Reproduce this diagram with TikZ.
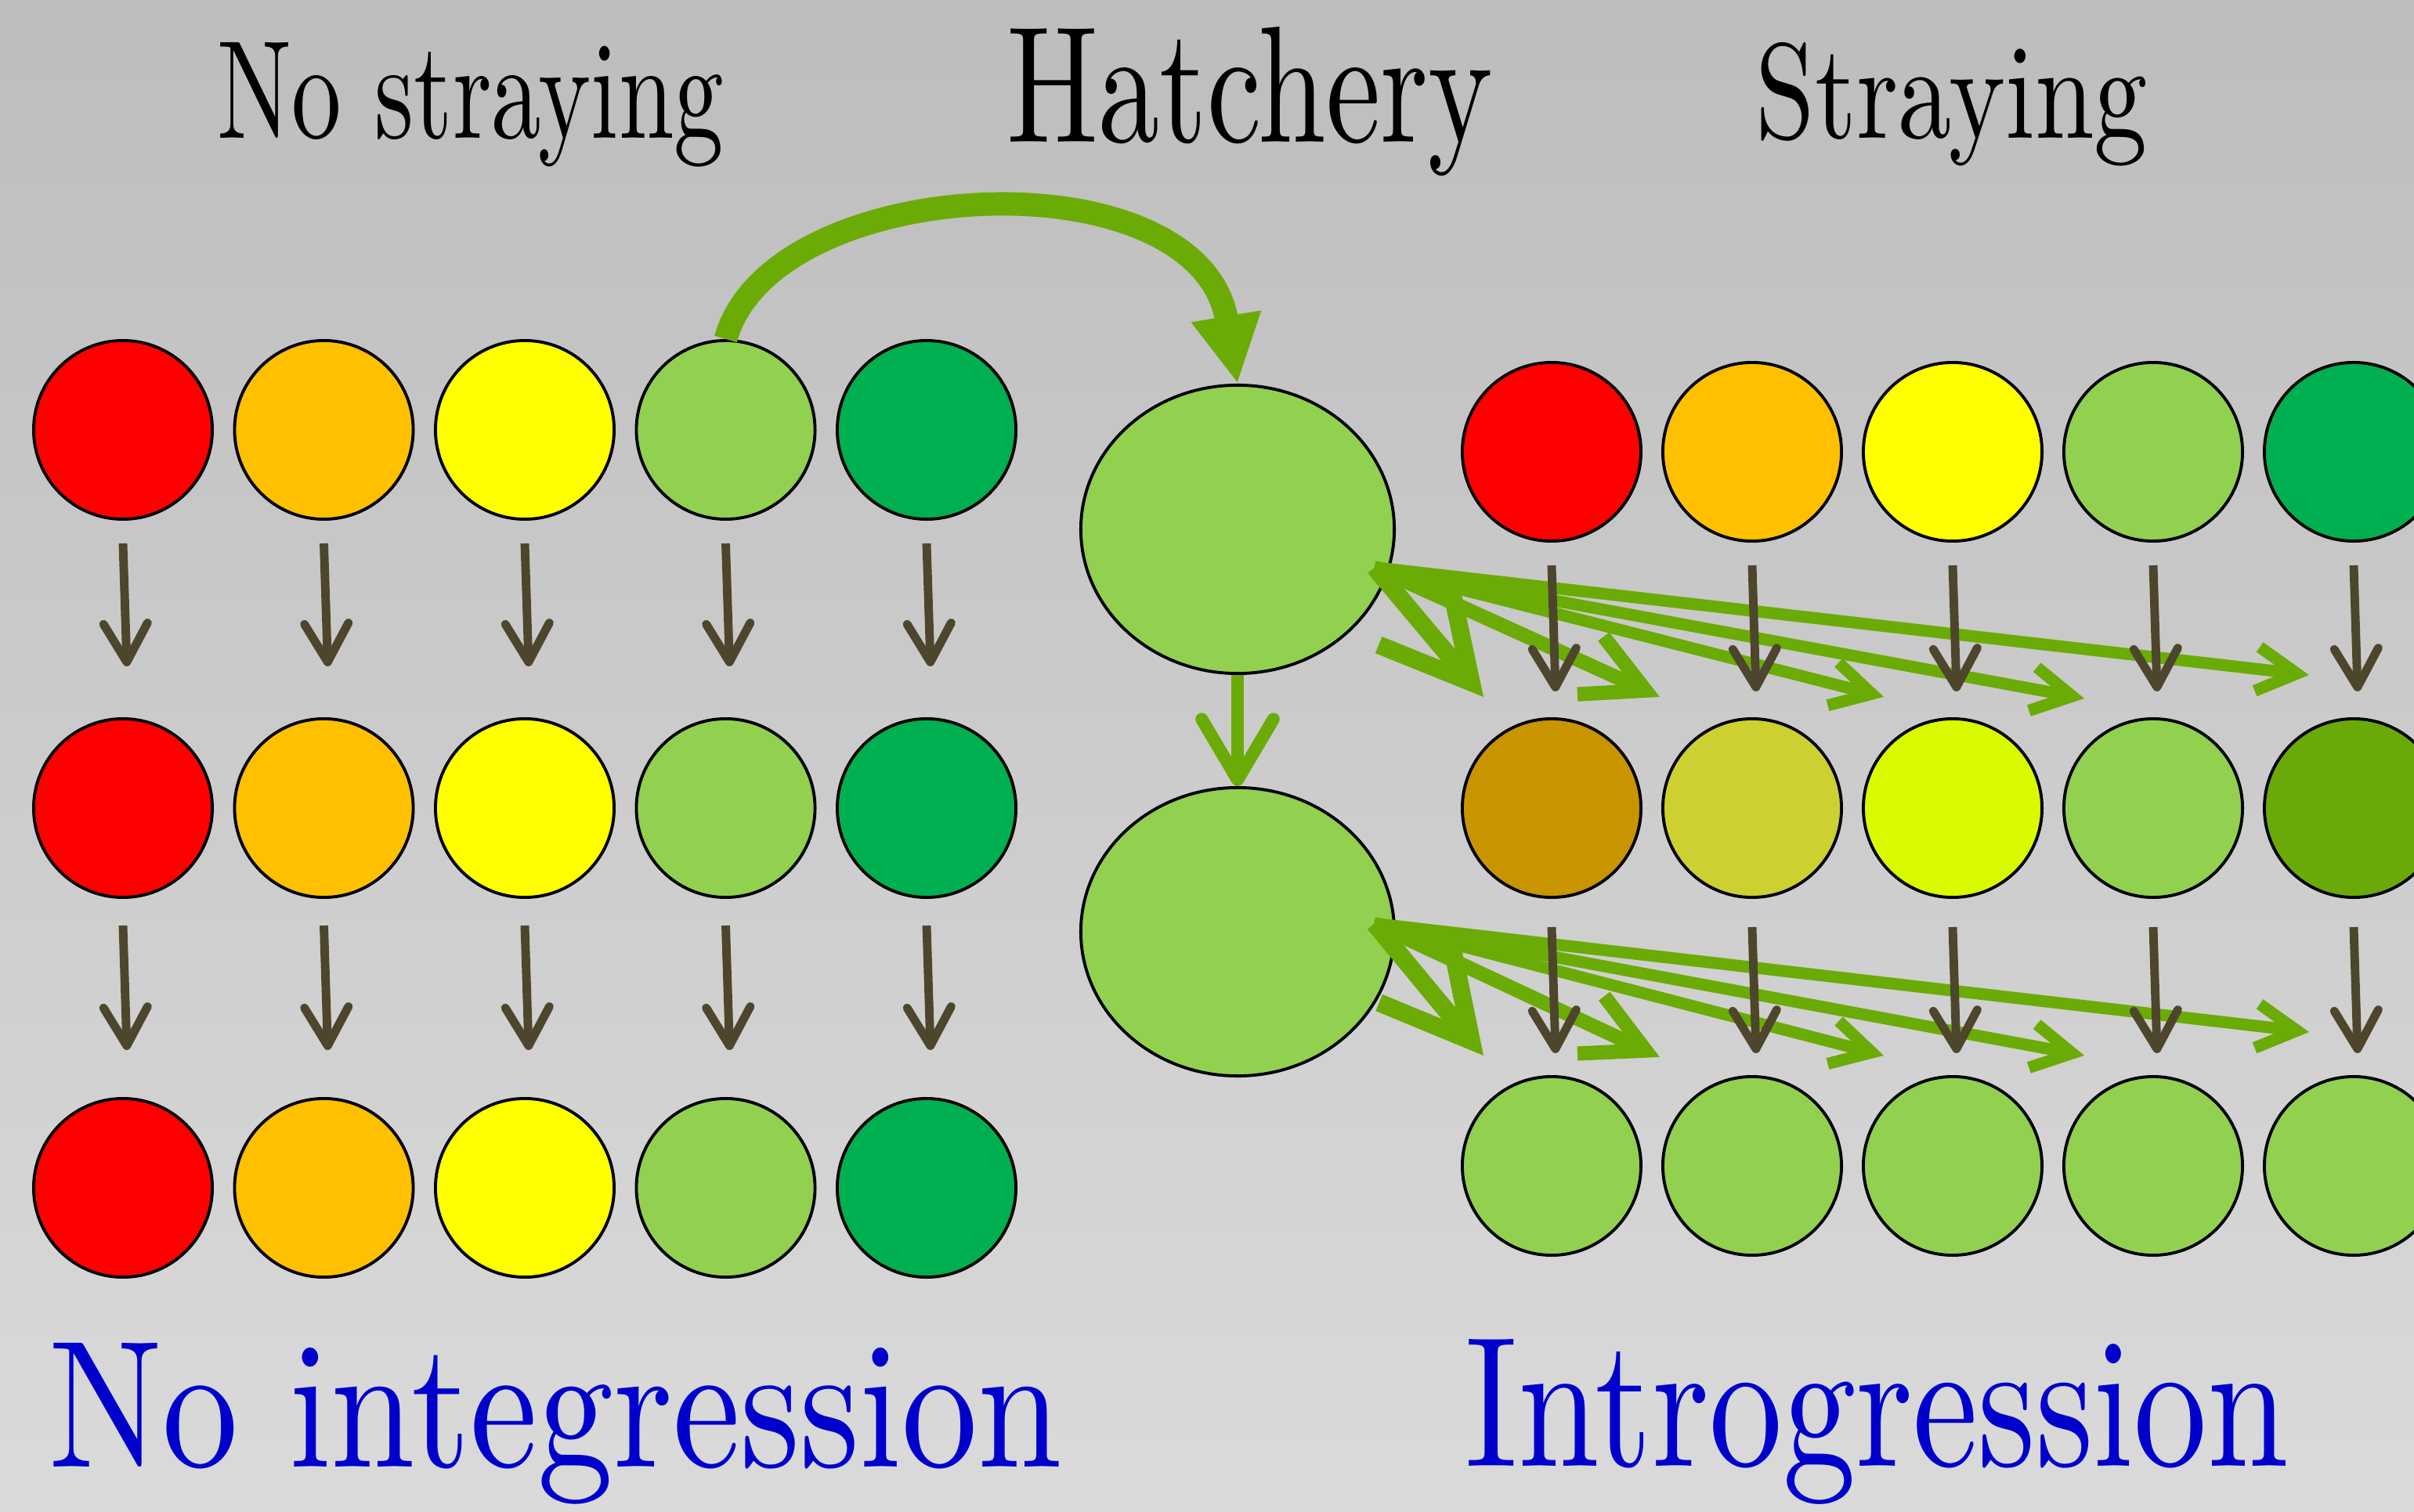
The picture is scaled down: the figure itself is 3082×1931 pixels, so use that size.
\documentclass[tikz,border=0pt]{standalone}
\usepackage{graphicx}
\usetikzlibrary{arrows.meta,shapes.geometric}
\definecolor{bgTop}{RGB}{189,189,189}
\definecolor{bgBot}{RGB}{218,218,218}
\definecolor{cRed}{HTML}{FF0000}
\definecolor{cOrange}{HTML}{FFC000}
\definecolor{cYellow}{HTML}{FFFF00}
\definecolor{cLG}{HTML}{92D050}
\definecolor{cDG}{HTML}{00B050}
\definecolor{cB1}{RGB}{200,148,0}
\definecolor{cB2}{RGB}{204,208,48}
\definecolor{cB3}{RGB}{217,250,0}
\definecolor{cB5}{RGB}{106,170,8}
\definecolor{arrowgreen}{RGB}{107,171,5}
\definecolor{arrowdark}{RGB}{77,70,45}
\definecolor{textblue}{RGB}{0,0,204}
\begin{document}
\begin{tikzpicture}[x=0.01cm,y=-0.01cm,
  pop/.style={circle,draw=black,line width=1.1pt,minimum size=2.28cm,inner sep=0pt},
  hat/.style={ellipse,draw=black,line width=1.1pt,fill=cLG,minimum width=4cm,minimum height=3.68cm,inner sep=0pt},
  darr/.style={draw=arrowdark,line width=3.1pt,-{Straight Barb[length=14pt,width=16pt,round]}},
  fanA/.style={draw=arrowgreen,line width=6.5pt,-{Straight Barb[length=32pt,width=34pt]}},
  fanB/.style={draw=arrowgreen,line width=5.2pt,-{Straight Barb[length=22pt,width=23pt]}},
  fanC/.style={draw=arrowgreen,line width=4.3pt,-{Straight Barb[length=14.5pt,width=16pt]}},
  lbl/.style={inner sep=0pt,anchor=base west},
]
\shade[top color=bgTop,bottom color=bgBot] (0,0) rectangle (3082,1931);
\useasboundingbox (0,0) rectangle (3082,1931);

% titles
\node[lbl] (tNS) at (277,177) {\resizebox{6.46cm}{1.22cm}{No straying}};
\node[lbl] (tH) at (1285,182) {\resizebox{6.20cm}{1.47cm}{Hatchery}};
\node[lbl] (tS) at (2241,177) {\resizebox{5.00cm}{1.22cm}{Straying}};
\node[lbl,text=textblue] (tNI) at (62,1873) {\resizebox{12.92cm}{1.58cm}{No integression}};
\node[lbl,text=textblue] (tI) at (1870,1872) {\resizebox{10.50cm}{1.62cm}{Introgression}};

% left populations
\foreach \r/\y in {1/549,2/1032,3/1517}{
  \node[pop,fill=cRed] (L\r1) at (157,\y) {};
  \node[pop,fill=cOrange] (L\r2) at (413.5,\y) {};
  \node[pop,fill=cYellow] (L\r3) at (670,\y) {};
  \node[pop,fill=cLG] (L\r4) at (926.5,\y) {};
  \node[pop,fill=cDG] (L\r5) at (1183,\y) {};
}

% right populations
\node[pop,fill=cRed] (R11) at (1981,577) {};
\node[pop,fill=cOrange] (R12) at (2237,577) {};
\node[pop,fill=cYellow] (R13) at (2493,577) {};
\node[pop,fill=cLG] (R14) at (2749,577) {};
\node[pop,fill=cDG] (R15) at (3005,577) {};
\node[pop,fill=cB1] (R21) at (1981,1032) {};
\node[pop,fill=cB2] (R22) at (2237,1032) {};
\node[pop,fill=cB3] (R23) at (2493,1032) {};
\node[pop,fill=cLG] (R24) at (2749,1032) {};
\node[pop,fill=cB5] (R25) at (3005,1032) {};
\node[pop,fill=cLG] (R31) at (1981,1489) {};
\node[pop,fill=cLG] (R32) at (2237,1489) {};
\node[pop,fill=cLG] (R33) at (2493,1489) {};
\node[pop,fill=cLG] (R34) at (2749,1489) {};
\node[pop,fill=cLG] (R35) at (3005,1489) {};

% hatchery
\node[hat] (H1) at (1580,676) {};
\node[hat] (H2) at (1580,1190) {};

% arc from population into hatchery
\draw[arrowgreen,line width=8.5pt,-{Triangle[length=24.8pt,width=23.9pt]}]
  (L14.north) .. controls (985,220) and (1530,195) .. (H1.north);
% hatchery generation arrow
\draw[arrowgreen,line width=4.6pt,-{Straight Barb[length=22pt,width=26pt,round]}]
  (H1.south) -- (H2.north);

% straying fans
\coordinate (S1) at ([xshift=-0.2cm]H1.-14);
\coordinate (T11) at (1894,890);
\coordinate (T12) at (2119,890);
\coordinate (T13) at (2405,890);
\coordinate (T14) at (2661,892);
\coordinate (T15) at (2948,862);
\coordinate (S2) at ([xshift=-0.27cm]H2.3);
\coordinate (T21) at (1894,1348);
\coordinate (T22) at (2119,1350);
\coordinate (T23) at (2405,1348);
\coordinate (T24) at (2661,1348);
\coordinate (T25) at (2948,1318);
\foreach \f in {1,2}{
  \draw[fanC] (S\f) -- (T\f5);
  \draw[fanC] (S\f) -- (T\f4);
  \draw[fanC] (S\f) -- (T\f3);
  \draw[fanB] (S\f) -- (T\f2);
  \draw[fanA] (S\f) -- (T\f1);
}

% generation arrows
\foreach \c in {1,...,5}{
  \draw[darr] ([yshift=-0.29cm]L1\c.south) -- ([xshift=0.05cm,yshift=0.65cm]L2\c.north);
  \draw[darr] ([yshift=-0.34cm]L2\c.south) -- ([xshift=0.05cm,yshift=0.60cm]L3\c.north);
  \draw[darr] ([yshift=-0.29cm]R1\c.south) -- ([xshift=0.05cm,yshift=0.33cm]R2\c.north);
  \draw[darr] ([yshift=-0.36cm]R2\c.south) -- ([xshift=0.05cm,yshift=0.28cm]R3\c.north);
}
\end{tikzpicture}
\end{document}
